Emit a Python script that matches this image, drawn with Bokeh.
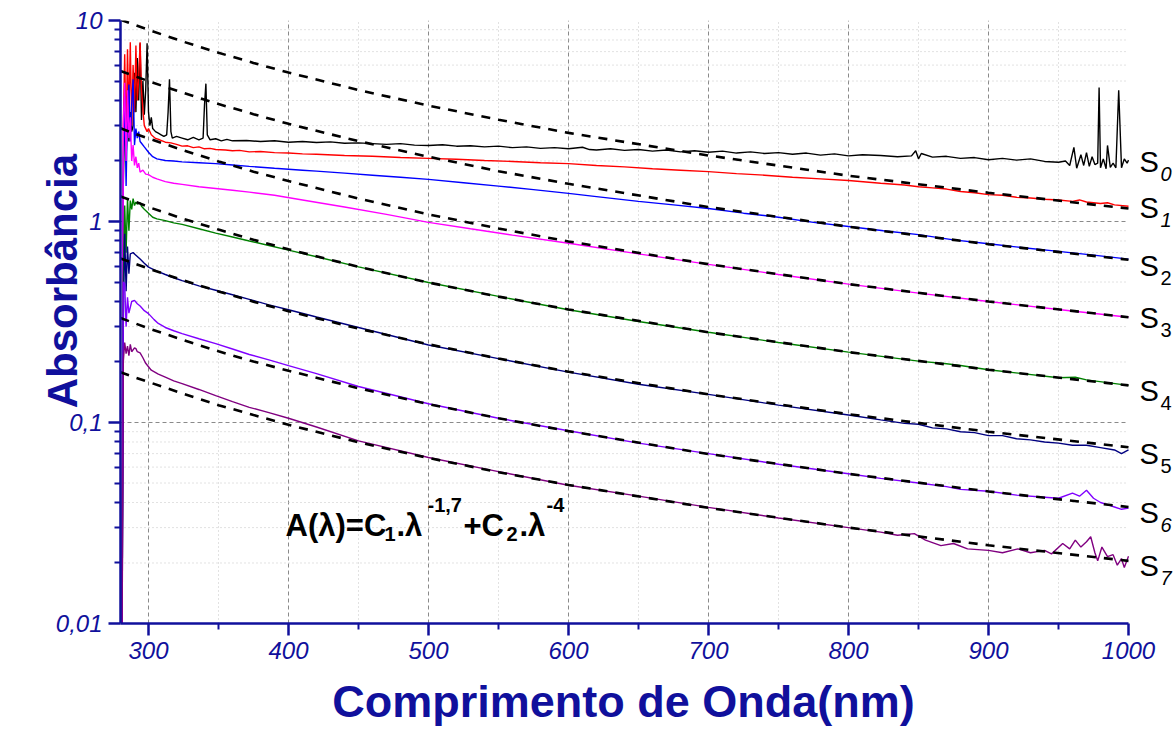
import math
from bokeh.plotting import figure
from bokeh.models import Range1d, FixedTicker, CustomJSTickFormatter, Label
from bokeh.embed import file_html
from bokeh.resources import INLINE

# ---------------- data ----------------
wl_s0 = [281, 282, 283, 284, 285, 286, 287, 288, 289, 290, 291, 292, 293, 294, 295, 296, 297, 298, 299, 300,
         301, 302, 303, 305,
         307, 309, 311, 313, 314, 315, 316, 317, 320, 324, 328, 332, 336, 339, 340, 341, 342, 344, 348,
         352, 356, 360, 370, 380, 390, 400, 410, 420, 430, 440, 450, 460, 470, 480, 490, 500, 510, 520,
         530, 540, 550, 560, 570, 580, 590, 600, 610, 615, 620, 630, 640, 650, 660, 670, 680, 690, 700,
         710, 720, 730, 740, 750, 760, 770, 780, 790, 800, 810, 823, 835, 845, 848, 850, 852, 860, 870,
         880, 890, 900, 910, 920, 930, 940, 950, 955, 958, 961, 963, 966, 968, 970, 972, 974, 976, 978,
         979, 980, 982, 984, 985, 987, 989, 991, 993, 995, 997, 999, 1000]
s0 = [0.005, 1.5, 3.5, 2.0, 4.0, 2.5, 3.5, 2.8, 3.0, 5.5, 3.5, 6.5, 4.0, 7.7, 3.2, 5.0, 3.4, 4.5, 7.7, 3.5,
      3.0, 3.3, 2.9, 2.8,
      2.75, 2.7, 2.65, 2.7, 3.5, 5.1, 2.8, 2.6, 2.65, 2.6, 2.55, 2.62, 2.55, 2.6, 3.8, 4.85, 2.7, 2.55, 2.58,
      2.52, 2.56, 2.52, 2.53, 2.50, 2.52, 2.48, 2.50, 2.47, 2.49, 2.45, 2.46, 2.44, 2.42, 2.44, 2.40, 2.39, 2.41, 2.37,
      2.38, 2.35, 2.37, 2.33, 2.35, 2.31, 2.33, 2.30, 2.34, 2.28, 2.27, 2.30, 2.26, 2.28, 2.24, 2.27, 2.22, 2.25, 2.21,
      2.24, 2.19, 2.22, 2.18, 2.20, 2.16, 2.19, 2.14, 2.17, 2.12, 2.15, 2.13, 2.10, 2.12, 2.25, 2.05, 2.18, 2.09, 2.11,
      2.06, 2.08, 2.03, 2.06, 2.02, 2.05, 1.99, 1.97, 2.00, 1.90, 2.34, 1.84, 2.15, 1.90, 2.20, 1.88, 2.10, 1.92, 1.95,
      4.64, 1.85, 2.05, 1.83, 2.39, 1.86, 1.95, 1.85, 4.50, 1.85, 2.05, 1.95, 2.02]

wl_s1 = [281, 282, 283, 284, 285, 286, 287, 288, 289, 290, 291, 292, 293, 294, 295, 296, 297, 299, 300,
         302, 305, 308, 312, 316, 320, 324, 328, 332, 336, 340, 344, 348, 355, 360, 365, 372, 380, 390,
         400, 410, 420, 440, 460, 480, 500, 520, 540, 560, 580, 600, 620, 640, 660, 680, 700, 720, 740,
         760, 780, 800, 823, 840, 850, 860, 870, 880, 890, 900, 910, 920, 930, 940, 950, 960, 965, 970,
         980, 985, 990, 1000]
s1 = [0.005, 3.0, 6.8, 2.5, 7.2, 3.2, 7.8, 3.0, 6.0, 3.5, 7.5, 4.0, 5.2, 7.8, 4.5, 3.6, 3.0, 2.8, 2.9,
      2.7, 2.59, 2.55, 2.48, 2.46, 2.42, 2.37, 2.38, 2.33, 2.35, 2.30, 2.31, 2.28, 2.27, 2.25, 2.26, 2.22, 2.23, 2.20,
      2.19, 2.17, 2.16, 2.13, 2.11, 2.08, 2.06, 2.04, 2.01, 1.99, 1.96, 1.94, 1.90, 1.87, 1.83, 1.80, 1.77, 1.73, 1.70,
      1.66, 1.63, 1.60, 1.55, 1.52, 1.49, 1.47, 1.45, 1.41, 1.39, 1.36, 1.35, 1.32, 1.31, 1.29, 1.28, 1.26, 1.28, 1.25,
      1.23, 1.24, 1.21, 1.19]

wl_s2 = [281, 282, 283, 284, 285, 286, 287, 288, 289, 290, 291, 292, 293, 294, 295, 297, 300, 303, 306,
         312, 318, 324, 336, 348, 360, 372, 390, 410, 420, 440, 460, 480, 500, 525, 550, 575, 600, 620,
         650, 675, 700, 725, 750, 775, 800, 825, 850, 875, 900, 925, 950, 975, 1000]
s2 = [0.005, 2.0, 4.2, 1.5, 3.6, 4.8, 2.5, 3.8, 5.1, 2.4, 2.9, 2.6, 2.8, 2.5, 2.45, 2.35, 2.21, 2.10, 2.05,
      2.01, 2.00, 1.98, 1.96, 1.94, 1.91, 1.88, 1.84, 1.80, 1.78, 1.74, 1.70, 1.66, 1.62, 1.56, 1.50, 1.44, 1.38, 1.33,
      1.26, 1.21, 1.16, 1.10, 1.05, 0.99, 0.945, 0.90, 0.86, 0.81, 0.775, 0.74, 0.71, 0.68, 0.65]

wl_s3 = [281, 282, 283, 284, 285, 286, 287, 288, 289, 290, 291, 292, 293, 294, 296, 298, 300, 303, 306,
         312, 318, 324, 336, 348, 360, 372, 390, 410, 440, 470, 500, 530, 560, 600, 650, 700, 750, 800,
         850, 900, 950, 1000]
s3 = [0.005, 3.0, 4.9, 2.0, 4.5, 2.6, 3.3, 2.0, 2.4, 1.9, 2.1, 1.85, 1.95, 1.76, 1.80, 1.72, 1.71, 1.66, 1.63,
      1.58, 1.55, 1.53, 1.49, 1.46, 1.43, 1.40, 1.35, 1.28, 1.18, 1.085, 0.99, 0.92, 0.855, 0.78, 0.69, 0.612, 0.545,
      0.488, 0.44, 0.40, 0.365, 0.334]

wl_s4 = [281, 282, 283, 284, 285, 286, 287, 288, 289, 290, 291, 292, 294, 295, 297, 300, 303, 306, 312,
         318, 324, 336, 348, 360, 372, 386, 400, 420, 450, 500, 550, 600, 650, 700, 750, 800, 850, 870,
         880, 900, 950, 962, 970, 1000]
s4 = [0.005, 0.5, 1.2, 0.7, 1.3, 0.9, 1.27, 1.15, 1.30, 1.20, 1.25, 1.22, 1.24, 1.19, 1.15, 1.10, 1.05, 1.03,
      1.01, 0.985, 0.967, 0.92, 0.875, 0.837, 0.80, 0.76, 0.72, 0.668, 0.595, 0.497, 0.424, 0.364, 0.318, 0.281,
      0.250, 0.224, 0.202, 0.196, 0.192, 0.183, 0.167, 0.168, 0.163, 0.153]

wl_s5 = [281, 282, 283, 284, 285, 286, 287, 289, 290, 292, 294, 297, 300, 306, 312, 318, 324, 336, 348,
         360, 372, 386, 400, 420, 450, 500, 550, 600, 650, 700, 750, 800, 823, 840, 850, 860, 870, 880,
         890, 900, 910, 920, 930, 940, 950, 960, 970, 980, 990, 995, 1000]
s5 = [0.005, 0.3, 0.87, 0.45, 0.75, 0.55, 0.69, 0.70, 0.69, 0.67, 0.65, 0.62, 0.593, 0.567, 0.545, 0.525,
      0.508, 0.478, 0.455, 0.432, 0.41, 0.385, 0.364, 0.335, 0.297, 0.243, 0.208, 0.178, 0.155, 0.138, 0.122, 0.109,
      0.103, 0.099, 0.098, 0.094, 0.093, 0.090, 0.089, 0.086, 0.086, 0.083, 0.082, 0.080, 0.079, 0.077, 0.077,
      0.075, 0.073, 0.070, 0.073]

wl_s6 = [281, 282, 283, 284, 285, 286, 288, 290, 292, 294, 297, 300, 304, 307, 312, 318, 324, 336, 348,
         360, 372, 386, 400, 420, 450, 500, 550, 600, 650, 700, 750, 800, 823, 850, 870, 880, 900, 920,
         940, 950, 960, 965, 970, 975, 980, 985, 990, 995, 1000]
s6 = [0.005, 0.5, 0.49, 0.3, 0.42, 0.35, 0.40, 0.405, 0.39, 0.38, 0.36, 0.348, 0.325, 0.311, 0.297, 0.286,
      0.277, 0.261, 0.247, 0.232, 0.218, 0.205, 0.192, 0.175, 0.151, 0.124, 0.105, 0.091, 0.079, 0.070, 0.062,
      0.0556, 0.0527, 0.050, 0.048, 0.0465, 0.0455, 0.0435, 0.0425, 0.042, 0.0445, 0.043, 0.046, 0.042, 0.040,
      0.039, 0.038, 0.037, 0.0375]

wl_s7 = [281, 282, 283, 284, 285, 286, 287, 288, 290, 291, 292, 294, 296, 298, 302, 307, 312, 318, 324,
         336, 348, 360, 372, 386, 400, 420, 450, 500, 550, 600, 650, 700, 750, 800, 823, 835, 847, 855,
         866, 875, 885, 900, 910, 921, 930, 940, 945, 953, 958, 962, 966, 970, 973, 976, 978, 981, 985,
         989, 992, 995, 997, 1000]
s7 = [0.005, 0.2, 0.25, 0.22, 0.24, 0.215, 0.245, 0.225, 0.235, 0.233, 0.225, 0.222, 0.21, 0.197, 0.182,
      0.174, 0.168, 0.161, 0.156, 0.146, 0.136, 0.127, 0.119, 0.112, 0.105, 0.095, 0.081, 0.067, 0.057, 0.0487,
      0.043, 0.0378, 0.0335, 0.0300, 0.0285, 0.0275, 0.028, 0.026, 0.0244, 0.025, 0.0235, 0.0231, 0.0225, 0.0235,
      0.0225, 0.0231, 0.0222, 0.025, 0.0235, 0.026, 0.024, 0.0255, 0.027, 0.0225, 0.0205, 0.024, 0.0215, 0.022,
      0.0195, 0.021, 0.019, 0.0216]

# fitted curves A = C1*l^-1.7 + C2*l^-4 (dashed), read at these wavelengths
wl_fit = [280, 290, 300, 325, 350, 375, 400, 450, 500, 550, 600, 700, 800, 900, 1000]
fit1 = [10.09, 9.52, 8.98, 7.84, 6.91, 6.15, 5.51, 4.51, 3.77, 3.21, 2.76, 2.13, 1.69, 1.39, 1.16]
fit2 = [5.61, 5.29, 4.99, 4.36, 3.84, 3.42, 3.06, 2.51, 2.10, 1.78, 1.54, 1.18, 0.942, 0.771, 0.645]
fit3 = [2.91, 2.74, 2.59, 2.26, 1.99, 1.77, 1.59, 1.30, 1.085, 0.923, 0.796, 0.613, 0.488, 0.400, 0.334]
fit4 = [1.33, 1.26, 1.18, 1.03, 0.912, 0.811, 0.727, 0.595, 0.497, 0.423, 0.365, 0.281, 0.224, 0.183, 0.153]
fit5 = [0.655, 0.618, 0.583, 0.509, 0.449, 0.399, 0.358, 0.293, 0.245, 0.208, 0.179, 0.138, 0.110, 0.090, 0.0753]
fit6 = [0.331, 0.312, 0.294, 0.257, 0.226, 0.201, 0.181, 0.148, 0.1235, 0.105, 0.0906, 0.0697, 0.0555, 0.0454, 0.038]
fit7 = [0.178, 0.168, 0.159, 0.139, 0.122, 0.109, 0.0974, 0.0797, 0.0666, 0.0566, 0.0489, 0.0376, 0.030, 0.0245, 0.0205]

series_names = ["0", "1", "2", "3", "4", "5", "6", "7"]
series_colors = ["#000000", "#ff0000", "#0000ff", "#ff00ff", "#008000", "#000080", "#8000ff", "#800080"]

x_ticks = [300, 400, 500, 600, 700, 800, 900, 1000]
x_minor = [350, 450, 550, 650, 750, 850, 950]
y_ticks = [0.01, 0.1, 1, 10]

x_title = "Comprimento de Onda(nm)"
y_title = "Absorbância"

# ---------------- figure ----------------
AX = "#10109c"
L, R, T, B = 120, 0, 20, 113
W, H = 1176, 736
FW, FH = W - L - R, H - T - B
PXNM = 1.4                       # pixels per nm in the reference
X0, XMAX = 280, 1000
X1 = X0 + FW / PXNM              # frame extends past 1000 to hold the S labels
Y0, Y1 = 0.01, 10

p = figure(width=W, height=H, x_range=Range1d(X0, X1), y_range=Range1d(Y0, Y1),
           y_axis_type="log", output_backend="svg", toolbar_location=None,
           min_border_left=L, min_border_right=R, min_border_top=T, min_border_bottom=B)
p.outline_line_color = None
p.background_fill_color = "white"
p.border_fill_color = "white"

def px2x(px):
    return X0 + (px - L) / PXNM

def py2y(py):
    return 10 ** (math.log10(Y1) - (py - T) * (math.log10(Y1) - math.log10(Y0)) / FH)

y_minor = [k * 10.0 ** e for e in (-2, -1, 0) for k in range(2, 10)]

p.xaxis.ticker = FixedTicker(ticks=x_ticks, minor_ticks=x_minor)
p.yaxis.ticker = FixedTicker(ticks=y_ticks, minor_ticks=y_minor)
fmt = CustomJSTickFormatter(code="return tick.toString().replace('.', ',');")
p.yaxis.formatter = fmt
p.xaxis.formatter = fmt
p.xaxis.bounds = (X0, XMAX)

for ax in (p.xaxis, p.yaxis):
    ax.axis_line_color = AX
    ax.axis_line_width = 2.5
    ax.major_tick_line_color = AX
    ax.major_tick_line_width = 2.5
    ax.minor_tick_line_color = AX
    ax.minor_tick_line_width = 2
    ax.major_tick_out = 12
    ax.major_tick_in = 0
    ax.minor_tick_out = 6
    ax.minor_tick_in = 0
    ax.major_label_text_color = AX
    ax.major_label_text_font = "Liberation Sans"
    ax.major_label_text_font_style = "italic"
    ax.major_label_text_font_size = "24px"
    ax.axis_label_text_font = "Liberation Sans"
    ax.axis_label_text_font_style = "bold"
    ax.axis_label_text_color = AX
p.yaxis.major_label_standoff = 6
p.xaxis.major_label_standoff = 6

# trailing no-break spaces move the centred title left (centre of the 280-1000 span)
p.xaxis.axis_label = x_title + "\u00a0" * 4
p.xaxis.axis_label_text_font_size = "45px"
p.xaxis.axis_label_standoff = 14

# leading no-break spaces move the centred title up, as in the reference
p.yaxis.axis_label = "\u00a0" * 7 + y_title
p.yaxis.axis_label_text_font_size = "42px"
p.yaxis.axis_label_standoff = -33

p.xgrid.grid_line_color = None
p.ygrid.grid_line_color = None

# grid lines limited to the 280-1000 nm span
gx_major = [t for t in x_ticks if t < XMAX]
p.segment(x0=gx_major, y0=[Y0] * len(gx_major), x1=gx_major, y1=[Y1] * len(gx_major),
          line_color="#8a8a8a", line_dash="4 3", line_width=1)
p.segment(x0=x_minor, y0=[Y0] * len(x_minor), x1=x_minor, y1=[Y1] * len(x_minor),
          line_color="#c4c4c4", line_dash="1 3", line_width=1)
gy_major = [0.1, 1]
p.segment(x0=[X0] * len(gy_major), y0=gy_major, x1=[XMAX] * len(gy_major), y1=gy_major,
          line_color="#8a8a8a", line_dash="4 3", line_width=1)
p.segment(x0=[X0] * len(y_minor), y0=y_minor, x1=[XMAX] * len(y_minor), y1=y_minor,
          line_color="#c4c4c4", line_dash="1 3", line_width=1)

# data lines
all_wl = [wl_s0, wl_s1, wl_s2, wl_s3, wl_s4, wl_s5, wl_s6, wl_s7]
all_s = [s0, s1, s2, s3, s4, s5, s6, s7]
for wl, s, c in zip(all_wl, all_s, series_colors):
    p.line(wl, s, line_color=c, line_width=1.4)

for f in (fit1, fit2, fit3, fit4, fit5, fit6, fit7):
    p.line(wl_fit, f, line_color="black", line_width=2.6, line_dash="9 8")

# series labels at the right
s_centres = [161, 207, 265, 317, 390, 453, 512, 565]
sub_italic = [True, True, False, False, False, False, True, True]
for name, cy, it in zip(series_names, s_centres, sub_italic):
    p.add_layout(Label(x=px2x(1139), y=py2y(cy), text="S", text_align="left", text_baseline="middle",
                       text_font="Liberation Sans", text_font_size="29px", text_color="black"))
    p.add_layout(Label(x=px2x(1160), y=py2y(cy + 12), text=name, text_align="left", text_baseline="middle",
                       text_font="Liberation Sans", text_font_size="20px", text_color="black",
                       text_font_style="italic" if it else "normal"))

# equation
eq_parts = [("A(λ)=C", 285, 525, "31px"), ("1", 384, 533, "20px"), (".λ", 396, 525, "31px"),
            ("-1,7", 427, 504, "20px"), ("+C", 463, 525, "31px"), ("2", 506, 533, "20px"),
            (".λ", 519, 525, "31px"), ("-4", 546, 504, "20px")]
for txt, xx, yy, fs in eq_parts:
    p.add_layout(Label(x=px2x(xx), y=py2y(yy), text=txt, text_align="left", text_baseline="alphabetic",
                       text_font="Liberation Sans", text_font_style="bold", text_font_size=fs,
                       text_color="black"))

open("out.html", "w").write(file_html(p, INLINE))
